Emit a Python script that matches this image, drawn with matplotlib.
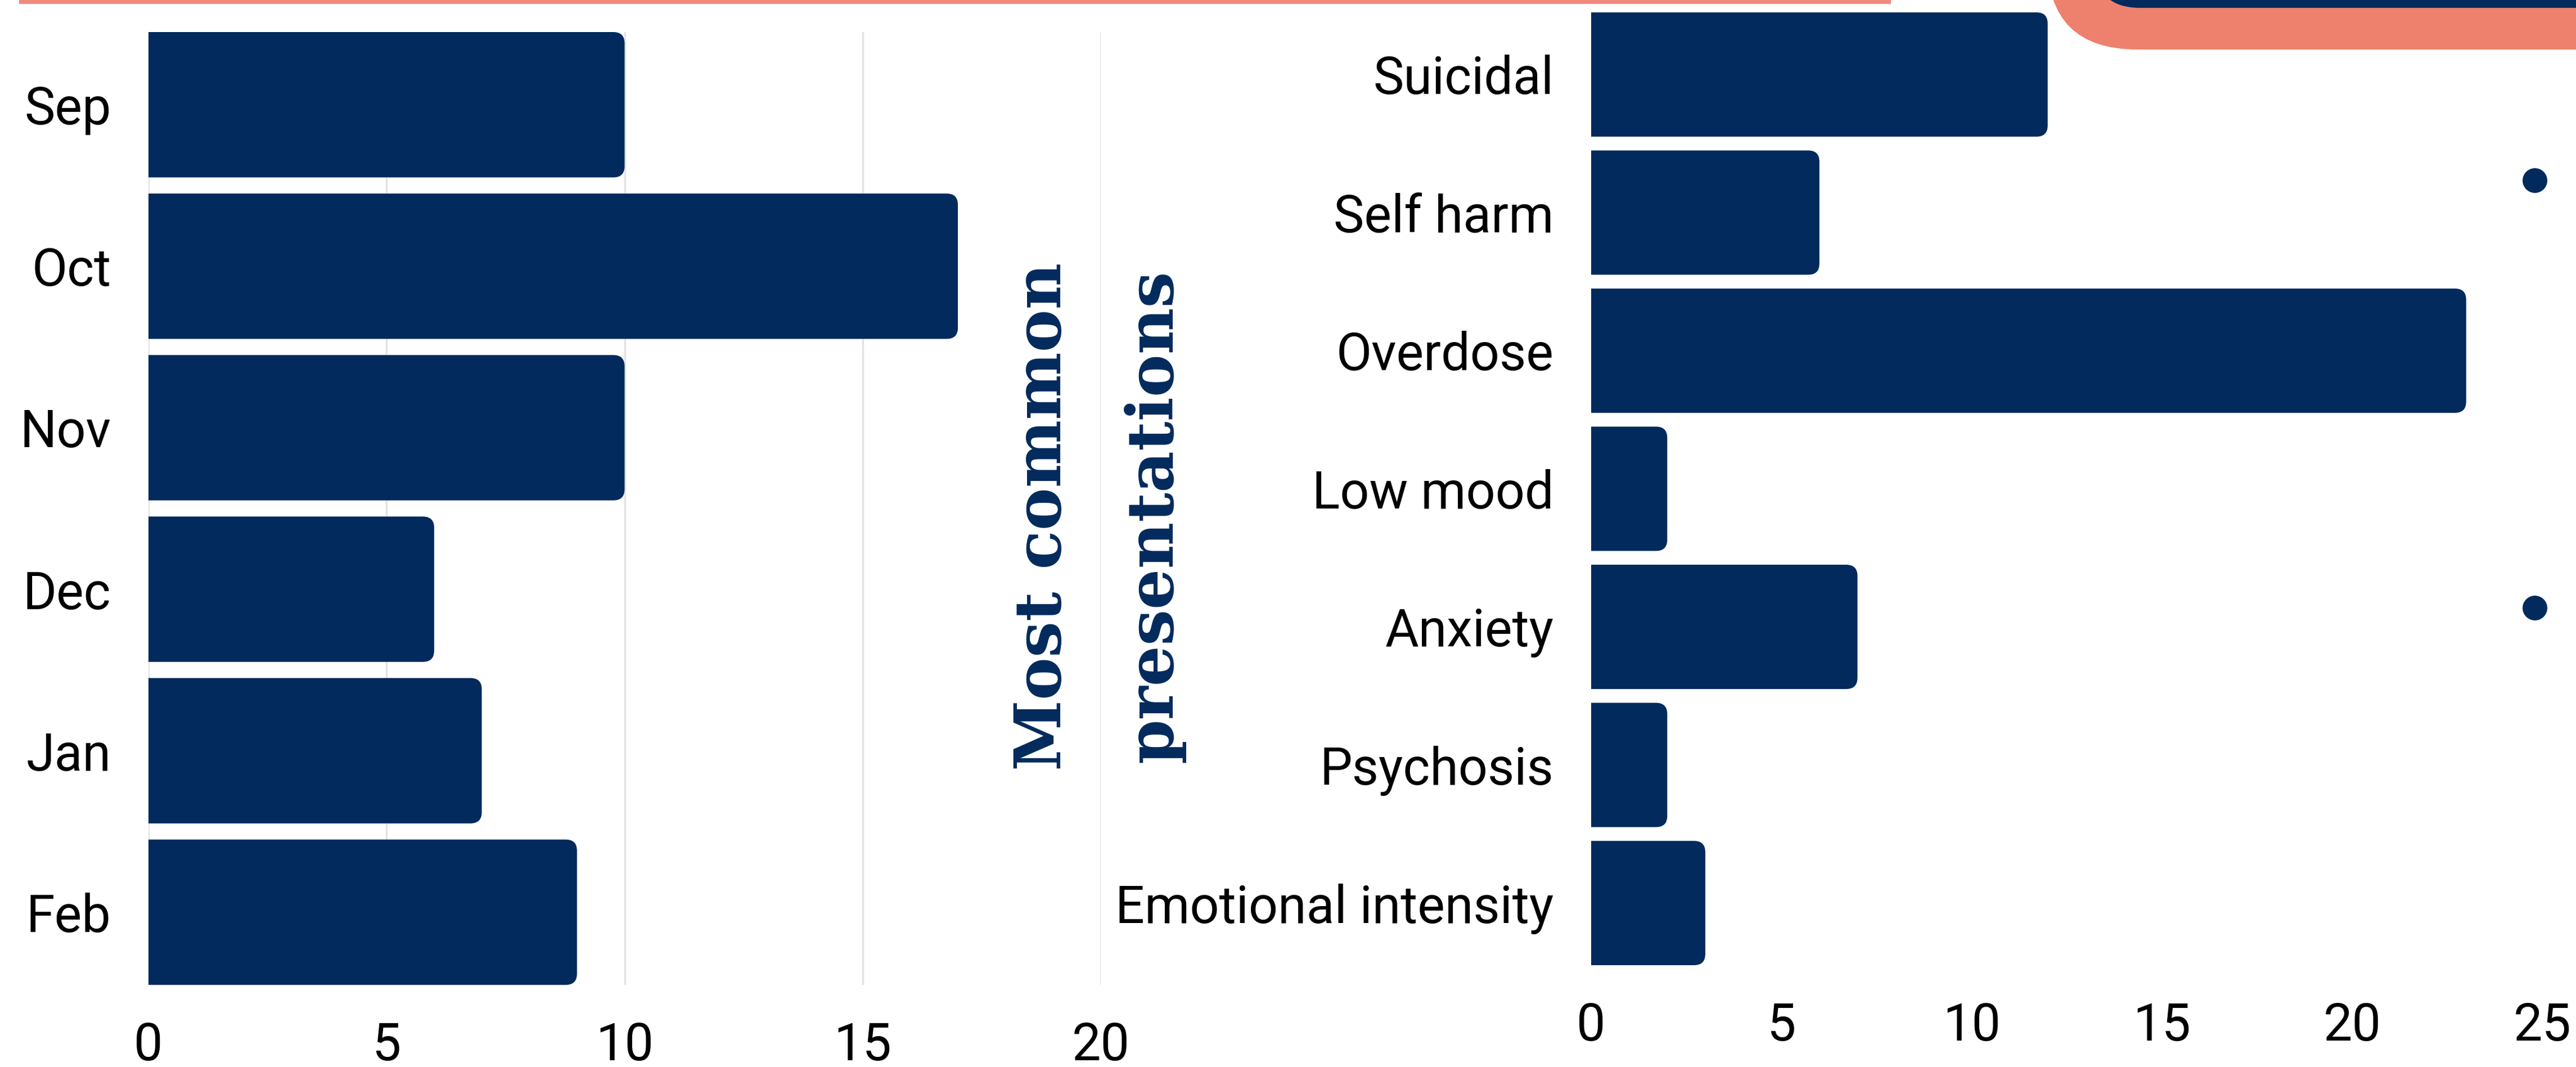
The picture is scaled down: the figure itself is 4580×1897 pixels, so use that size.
import matplotlib.pyplot as plt
from matplotlib.patches import FancyBboxPatch, Circle, Rectangle

months = ["Sep", "Oct", "Nov", "Dec", "Jan", "Feb"]
month_counts = [10, 17, 10, 6, 7, 9]
month_ticks = [0, 5, 10, 15, 20]

presentations = ["Suicidal", "Self harm", "Overdose", "Low mood", "Anxiety",
                 "Psychosis", "Emotional intensity"]
presentation_counts = [12, 6, 23, 2, 7, 2, 3]
presentation_ticks = [0, 5, 10, 15, 20, 25]

NAVY = "#032A5C"
SALMON = "#F08A7E"
ORANGE = "#EE816D"

W, H, DPI = 4580, 1897, 200

plt.rcParams['font.family'] = ['Roboto', 'DejaVu Sans']

fig = plt.figure(figsize=(W / DPI, H / DPI), dpi=DPI)


def px_box(left, top, right, bottom):
    # axes rectangle given in pixels from the top-left corner
    return [left / W, 1 - bottom / H, (right - left) / W, (bottom - top) / H]


def rounded_barh(ax, labels, values, ticks, radius_px=20):
    n = len(labels)
    bars = ax.barh(range(n), values, height=0.9, color=NAVY, zorder=2)
    xmax = ticks[-1]
    ax.set_xlim(0, xmax)
    ax.set_ylim(n - 0.55, -0.45)
    pos = ax.get_position()
    xu = xmax / (pos.width * W)
    yu = (n - 0.1) / (pos.height * H)
    r = radius_px * xu
    # swap the square bars for ones with rounded ends
    for b in bars:
        b.set_visible(False)
        ax.add_patch(FancyBboxPatch(
            (b.get_x() - r, b.get_y()), b.get_width() + r, b.get_height(),
            boxstyle="round,pad=0,rounding_size={}".format(r),
            mutation_aspect=yu / xu, fc=NAVY, ec="none", zorder=2))
    ax.set_yticks(range(n))
    ax.set_yticklabels(labels)
    ax.set_xticks(ticks)
    ax.tick_params(length=0, labelsize=33, colors="black")
    ax.tick_params(axis="x", pad=23)
    ax.tick_params(axis="y", pad=24)
    for s in ax.spines.values():
        s.set_visible(False)


ax1 = fig.add_axes(px_box(264, 57, 1957, 1751))
rounded_barh(ax1, months, month_counts, month_ticks)
ax1.grid(axis="x", color="#E2E2E2", linewidth=1.2)
ax1.set_axisbelow(True)

ax2 = fig.add_axes(px_box(2829, 22, 4520, 1716))
rounded_barh(ax2, presentations, presentation_counts, presentation_ticks)

# vertical title between the charts
title_kw = dict(rotation=90, ha="center", va="center", family="DejaVu Serif",
                weight="bold", size=41, color=NAVY)
fig.text(1854 / W, 1 - 918 / H, "Most common", **title_kw)
fig.text(2052 / W, 1 - 918 / H, "presentations", **title_kw)

# decorations
inch = fig.dpi_scale_trans
fig.add_artist(Rectangle((34 / DPI, (H - 7) / DPI), (3362 - 34) / DPI, 8 / DPI,
                         transform=inch, fc=SALMON, ec="none"))
fig.add_artist(FancyBboxPatch((3640 / DPI, (H - 88) / DPI), 1400 / DPI, 500 / DPI,
                              boxstyle="round,pad=0,rounding_size={}".format(160 / DPI),
                              transform=inch, fc=ORANGE, ec="none"))
fig.add_artist(FancyBboxPatch((3725 / DPI, (H - 14) / DPI), 1400 / DPI, 500 / DPI,
                              boxstyle="round,pad=0,rounding_size={}".format(80 / DPI),
                              transform=inch, fc=NAVY, ec="none"))
for y in [321, 1081]:
    fig.add_artist(Circle((4507 / DPI, (H - y) / DPI), 22 / DPI,
                          transform=inch, fc=NAVY, ec="none"))

fig.savefig("out.png", dpi=DPI)
